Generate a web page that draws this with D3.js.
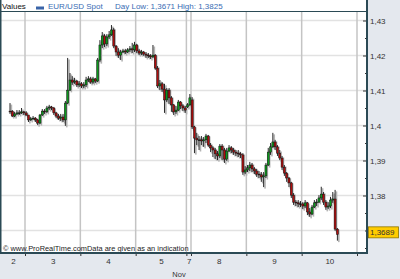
<!DOCTYPE html>
<html>
<head>
<meta charset="utf-8">
<script src="https://cdn.jsdelivr.net/npm/d3@7"></script>
<style>
    html, body { margin: 0; padding: 0; background: #e4e8ee; }
    svg { display: block; font-family: "Liberation Sans", Arial, sans-serif; }
</style>
</head>
<body>
<div id="chart"></div>
<script>
// Data: hourly EUR/USD candles, first candle sits 7 hours before day "3" opens
const firstHour = -7;
const opens = [
    1.4041, 1.4041, 1.4027, 1.4033, 1.4036, 1.4036, 1.4039,
    1.4036, 1.4030, 1.4016, 1.4019, 1.4021, 1.4016, 1.4007, 1.4030, 1.4041, 1.4039, 1.4050, 1.4053,
    1.4050, 1.4036, 1.4027, 1.4021, 1.4024, 1.4016, 1.4064, 1.4101, 1.4130, 1.4124, 1.4127, 1.4116,
    1.4119, 1.4113, 1.4116, 1.4130, 1.4133, 1.4124, 1.4133, 1.4127, 1.4187, 1.4230, 1.4256, 1.4233,
    1.4253, 1.4259, 1.4273, 1.4227, 1.4210, 1.4201, 1.4210, 1.4213, 1.4210, 1.4216, 1.4219, 1.4216,
    1.4230, 1.4213, 1.4207, 1.4210, 1.4204, 1.4201, 1.4199, 1.4196, 1.4201, 1.4164, 1.4113, 1.4119,
    1.4104, 1.4073, 1.4101, 1.4079, 1.4059, 1.4039, 1.4044, 1.4067, 1.4056, 1.4050, 1.4053, 1.4059,
    1.4073, 1.3996, 1.3964, 1.3959, 1.3959, 1.3956, 1.3959, 1.3970, 1.3944, 1.3936, 1.3930, 1.3919,
    1.3913, 1.3941, 1.3930, 1.3904, 1.3927, 1.3936, 1.3930, 1.3924, 1.3921, 1.3919, 1.3916, 1.3867,
    1.3873, 1.3879, 1.3887, 1.3876, 1.3870, 1.3861, 1.3859, 1.3853, 1.3856, 1.3887, 1.3924, 1.3939,
    1.3953, 1.3939, 1.3921, 1.3907, 1.3881, 1.3864, 1.3850, 1.3836, 1.3801, 1.3781, 1.3779, 1.3776,
    1.3776, 1.3770, 1.3779, 1.3753, 1.3747, 1.3767, 1.3779, 1.3781, 1.3793, 1.3804, 1.3781, 1.3767,
    1.3770, 1.3787, 1.3790, 1.3704
];
const highs = [
    1.4064, 1.4044, 1.4039, 1.4044, 1.4044, 1.4050, 1.4041,
    1.4041, 1.4030, 1.4024, 1.4027, 1.4024, 1.4019, 1.4033, 1.4047, 1.4047, 1.4056, 1.4059, 1.4056,
    1.4053, 1.4039, 1.4033, 1.4033, 1.4033, 1.4070, 1.4193, 1.4150, 1.4141, 1.4136, 1.4130, 1.4127,
    1.4124, 1.4124, 1.4139, 1.4141, 1.4139, 1.4139, 1.4136, 1.4193, 1.4244, 1.4267, 1.4261, 1.4261,
    1.4270, 1.4287, 1.4279, 1.4230, 1.4221, 1.4216, 1.4219, 1.4219, 1.4221, 1.4227, 1.4236, 1.4239,
    1.4233, 1.4219, 1.4216, 1.4213, 1.4210, 1.4207, 1.4204, 1.4230, 1.4204, 1.4170, 1.4130, 1.4124,
    1.4119, 1.4107, 1.4107, 1.4084, 1.4061, 1.4056, 1.4073, 1.4070, 1.4061, 1.4056, 1.4064, 1.4090,
    1.4081, 1.3999, 1.3979, 1.3970, 1.3970, 1.3967, 1.3976, 1.3973, 1.3950, 1.3941, 1.3936, 1.3927,
    1.3947, 1.3947, 1.3936, 1.3936, 1.3944, 1.3941, 1.3936, 1.3930, 1.3930, 1.3924, 1.3921, 1.3884,
    1.3887, 1.3896, 1.3893, 1.3881, 1.3876, 1.3870, 1.3867, 1.3867, 1.3893, 1.3936, 1.3950, 1.3979,
    1.3959, 1.3944, 1.3930, 1.3913, 1.3887, 1.3867, 1.3853, 1.3839, 1.3807, 1.3787, 1.3787, 1.3784,
    1.3781, 1.3787, 1.3781, 1.3764, 1.3773, 1.3787, 1.3790, 1.3801, 1.3825, 1.3810, 1.3787, 1.3781,
    1.3796, 1.3810, 1.3816, 1.3707
];
const lows = [
    1.4033, 1.4024, 1.4024, 1.4030, 1.4030, 1.4033, 1.4030,
    1.4027, 1.4010, 1.4013, 1.4016, 1.4010, 1.4001, 1.4004, 1.4027, 1.4033, 1.4036, 1.4044, 1.4044,
    1.4030, 1.4021, 1.4016, 1.4013, 1.4010, 1.3999, 1.4061, 1.4099, 1.4116, 1.4119, 1.4110, 1.4110,
    1.4107, 1.4107, 1.4110, 1.4124, 1.4119, 1.4119, 1.4121, 1.4124, 1.4181, 1.4221, 1.4224, 1.4227,
    1.4247, 1.4256, 1.4221, 1.4199, 1.4193, 1.4187, 1.4207, 1.4204, 1.4207, 1.4210, 1.4207, 1.4210,
    1.4207, 1.4201, 1.4201, 1.4199, 1.4193, 1.4193, 1.4190, 1.4193, 1.4159, 1.4107, 1.4101, 1.4096,
    1.4036, 1.4067, 1.4061, 1.4039, 1.4030, 1.4033, 1.4041, 1.4047, 1.4041, 1.4036, 1.4050, 1.4056,
    1.3990, 1.3921, 1.3944, 1.3930, 1.3944, 1.3939, 1.3950, 1.3939, 1.3924, 1.3910, 1.3904, 1.3901,
    1.3907, 1.3901, 1.3893, 1.3899, 1.3924, 1.3921, 1.3916, 1.3913, 1.3910, 1.3907, 1.3859, 1.3861,
    1.3867, 1.3870, 1.3867, 1.3861, 1.3853, 1.3850, 1.3839, 1.3824, 1.3850, 1.3884, 1.3916, 1.3936,
    1.3930, 1.3913, 1.3901, 1.3873, 1.3856, 1.3839, 1.3824, 1.3793, 1.3773, 1.3770, 1.3767, 1.3767,
    1.3761, 1.3764, 1.3744, 1.3739, 1.3744, 1.3764, 1.3770, 1.3779, 1.3787, 1.3773, 1.3759, 1.3761,
    1.3764, 1.3779, 1.3699, 1.3671
];
const closes = [
    1.4039, 1.4027, 1.4033, 1.4036, 1.4036, 1.4039, 1.4036,
    1.4030, 1.4016, 1.4019, 1.4021, 1.4016, 1.4007, 1.4030, 1.4041, 1.4039, 1.4050, 1.4053, 1.4050,
    1.4036, 1.4027, 1.4021, 1.4024, 1.4016, 1.4064, 1.4101, 1.4130, 1.4124, 1.4127, 1.4116, 1.4119,
    1.4113, 1.4116, 1.4130, 1.4133, 1.4124, 1.4133, 1.4127, 1.4187, 1.4230, 1.4256, 1.4233, 1.4253,
    1.4259, 1.4273, 1.4227, 1.4210, 1.4201, 1.4210, 1.4213, 1.4210, 1.4216, 1.4219, 1.4216, 1.4230,
    1.4213, 1.4207, 1.4210, 1.4204, 1.4201, 1.4199, 1.4196, 1.4201, 1.4164, 1.4113, 1.4119, 1.4104,
    1.4073, 1.4101, 1.4079, 1.4059, 1.4039, 1.4044, 1.4067, 1.4056, 1.4050, 1.4044, 1.4059, 1.4079,
    1.3996, 1.3964, 1.3959, 1.3959, 1.3956, 1.3959, 1.3970, 1.3944, 1.3936, 1.3930, 1.3919, 1.3913,
    1.3941, 1.3930, 1.3904, 1.3927, 1.3936, 1.3930, 1.3924, 1.3921, 1.3919, 1.3916, 1.3867, 1.3873,
    1.3879, 1.3887, 1.3876, 1.3870, 1.3861, 1.3859, 1.3853, 1.3856, 1.3887, 1.3924, 1.3939, 1.3953,
    1.3939, 1.3921, 1.3907, 1.3881, 1.3864, 1.3850, 1.3836, 1.3801, 1.3781, 1.3779, 1.3776, 1.3776,
    1.3770, 1.3779, 1.3753, 1.3747, 1.3767, 1.3779, 1.3781, 1.3793, 1.3804, 1.3781, 1.3767, 1.3770,
    1.3787, 1.3790, 1.3704, 1.3689
];

// Day boundaries in hours (day "3" opens at hour 0), and the labelled days
const dayStarts = [-24, 0, 24, 48, 70, 72, 96, 120, 144];
const dayLabels = ['2', '3', '4', '5', '7', '8', '9', '10'];
const monthLabel = 'Nov';
const priceTicks = [1.43, 1.42, 1.41, 1.40, 1.39, 1.38, 1.37];
const minorTicks = [1.425, 1.415, 1.405, 1.395, 1.385, 1.375, 1.365];
const dayLow = 1.3671;
const dayHigh = 1.3825;

// Constants
const WIDTH = 400;
const HEIGHT = 279;
const PLOT_LEFT = 1;
const PLOT_RIGHT = 367;
const PLOT_TOP = 12;
const PLOT_BOTTOM = 253;
const FRAME = '#2b4a55';
const fmt = (v) => String(+v.toFixed(4)).replace('.', ',');

const svg = d3.select('#chart')
    .append('svg').attr('width', WIDTH).attr('height', HEIGHT);

const x = d3.scaleLinear().domain([0, 144]).range([25, 357]);
const y = d3.scaleLinear().domain([1.37, 1.43]).range([230.5, 20.5]);

const candles = closes.map((c, i) => ({
    hour: firstHour + i, o: opens[i], h: highs[i], l: lows[i], c: c
}));

// plot background
svg.append('rect')
    .attr('x', PLOT_LEFT).attr('y', 0)
    .attr('width', PLOT_RIGHT - PLOT_LEFT).attr('height', PLOT_BOTTOM)
    .attr('fill', 'white');

svg.append('clipPath').attr('id', 'plot-clip')
    .append('rect')
    .attr('x', PLOT_LEFT).attr('y', PLOT_TOP)
    .attr('width', PLOT_RIGHT - PLOT_LEFT).attr('height', PLOT_BOTTOM - PLOT_TOP);

const plot = svg.append('g').attr('clip-path', 'url(#plot-clip)');

// horizontal grid
plot.selectAll('.hgrid')
    .data(priceTicks)
    .join('line')
    .attr('class', 'hgrid')
    .attr('x1', PLOT_LEFT).attr('x2', PLOT_RIGHT)
    .attr('y1', d => y(d)).attr('y2', d => y(d))
    .attr('stroke', '#e2e2e2').attr('stroke-width', 1.5);

// vertical grid at each day boundary
plot.selectAll('.vgrid')
    .data(dayStarts)
    .join('line')
    .attr('class', 'vgrid')
    .attr('x1', d => x(d)).attr('x2', d => x(d))
    .attr('y1', PLOT_TOP).attr('y2', PLOT_BOTTOM)
    .attr('stroke', '#c4c4c4').attr('stroke-width', 1.5);

// watermark
svg.append('text')
    .text('\u00A9 www.ProRealTime.comData are given as an indication')
    .attr('x', 3).attr('y', 250.5)
    .attr('font-size', 7.4)
    .attr('fill', '#222');

// candles
const bw = 2;
const candle = plot.selectAll('.candle')
    .data(candles)
    .join('g')
    .attr('class', 'candle')
    .attr('transform', d => `translate(${x(d.hour + 0.5)},0)`);

// grey drop shadow
candle.append('rect')
    .attr('x', 0.6).attr('width', 1.6)
    .attr('y', d => y(d.h) + 1.5)
    .attr('height', d => Math.max(1, y(d.l) - y(d.h)))
    .attr('fill', '#b4b4b4');

// wick
candle.append('line')
    .attr('x1', 0).attr('x2', 0)
    .attr('y1', d => y(d.h)).attr('y2', d => y(d.l))
    .attr('stroke', '#111').attr('stroke-width', 0.9);

// body
candle.append('rect')
    .attr('x', -bw / 2).attr('width', bw)
    .attr('y', d => y(Math.max(d.o, d.c)))
    .attr('height', d => Math.max(0.8, Math.abs(y(d.o) - y(d.c))))
    .attr('fill', d => d.c > d.o ? '#0c9a1c' : d.c < d.o ? '#b00d0d' : '#111')
    .attr('stroke', '#111').attr('stroke-width', 0.5);

// right price axis
const yAxis = d3.axisRight(y)
    .tickValues(priceTicks.filter(d => d !== 1.37))
    .tickFormat(fmt)
    .tickSizeInner(-4).tickSizeOuter(0).tickPadding(3);
const yAxisG = svg.append('g')
    .attr('transform', `translate(${PLOT_RIGHT},0)`)
    .call(yAxis);
yAxisG.selectAll('text').attr('font-size', 8).attr('fill', '#333').attr('font-family', null);
yAxisG.selectAll('line').attr('stroke', '#333');
yAxisG.select('.domain').remove();

const yMinor = d3.axisRight(y)
    .tickValues(minorTicks.concat([1.37]))
    .tickFormat('')
    .tickSizeInner(-2).tickSizeOuter(0);
const yMinorG = svg.append('g')
    .attr('transform', `translate(${PLOT_RIGHT},0)`)
    .call(yMinor);
yMinorG.selectAll('line').attr('stroke', '#333');
yMinorG.select('.domain').remove();

// bottom day axis: boundary ticks, then labels centred on each visible day
const xTicks = d3.axisBottom(x)
    .tickValues(dayStarts.filter(d => x(d) > PLOT_LEFT && x(d) < PLOT_RIGHT))
    .tickFormat('')
    .tickSizeInner(3).tickSizeOuter(0);
const xTicksG = svg.append('g')
    .attr('transform', `translate(0,${PLOT_BOTTOM})`)
    .call(xTicks);
xTicksG.selectAll('line').attr('stroke', '#333');
xTicksG.select('.domain').remove();

const x0 = x.invert(PLOT_LEFT);
const x1 = x.invert(PLOT_RIGHT);
const labelPos = dayLabels.map((d, i) =>
    (Math.max(dayStarts[i], x0) + Math.min(dayStarts[i + 1], x1)) / 2);
const xLabels = d3.axisBottom(x)
    .tickValues(labelPos)
    .tickFormat((d, i) => dayLabels[i])
    .tickSize(0).tickPadding(5);
const xLabelsG = svg.append('g')
    .attr('transform', `translate(0,${PLOT_BOTTOM})`)
    .call(xLabels);
xLabelsG.selectAll('text').attr('font-size', 8).attr('fill', '#333').attr('font-family', null);
xLabelsG.select('.domain').remove();

svg.append('text')
    .text(monthLabel)
    .attr('x', 179).attr('y', 277)
    .attr('text-anchor', 'middle')
    .attr('font-size', 7.5)
    .attr('fill', '#333');

// frame
svg.append('path')
    .attr('d', `M${PLOT_LEFT - 0.5},0 V${PLOT_BOTTOM} H${PLOT_RIGHT} V0`)
    .attr('fill', 'none').attr('stroke', FRAME).attr('stroke-width', 2);
svg.append('line')
    .attr('x1', PLOT_LEFT).attr('x2', PLOT_RIGHT)
    .attr('y1', PLOT_TOP - 0.5).attr('y2', PLOT_TOP - 0.5)
    .attr('stroke', FRAME).attr('stroke-width', 1);

// legend
const legend = svg.append('g').attr('font-size', 8);
legend.append('text').text('Values')
    .attr('x', 2).attr('y', 9).attr('fill', '#111');
legend.append('rect')
    .attr('x', 36).attr('y', 6.5).attr('width', 8).attr('height', 3)
    .attr('fill', '#3a64a8');
legend.append('text').text('EUR/USD Spot')
    .attr('x', 48).attr('y', 9).attr('fill', '#3a6db4');
legend.append('text').text(`Day Low: ${fmt(dayLow)} High: ${fmt(dayHigh)}`)
    .attr('x', 115).attr('y', 9).attr('fill', '#3a6db4');

// last price marker
const last = closes[closes.length - 1];
const marker = svg.append('g')
    .attr('transform', `translate(${PLOT_RIGHT + 1},${y(last) - 2})`);
marker.append('rect')
    .attr('x', 0.5).attr('y', -5.5).attr('width', 30).attr('height', 11)
    .attr('fill', '#ffcc00').attr('stroke', '#8a7300').attr('stroke-width', 0.8);
marker.append('text').text(fmt(last))
    .attr('x', 2).attr('y', 3)
    .attr('font-size', 8).attr('fill', '#333');
</script>
</body>
</html>
